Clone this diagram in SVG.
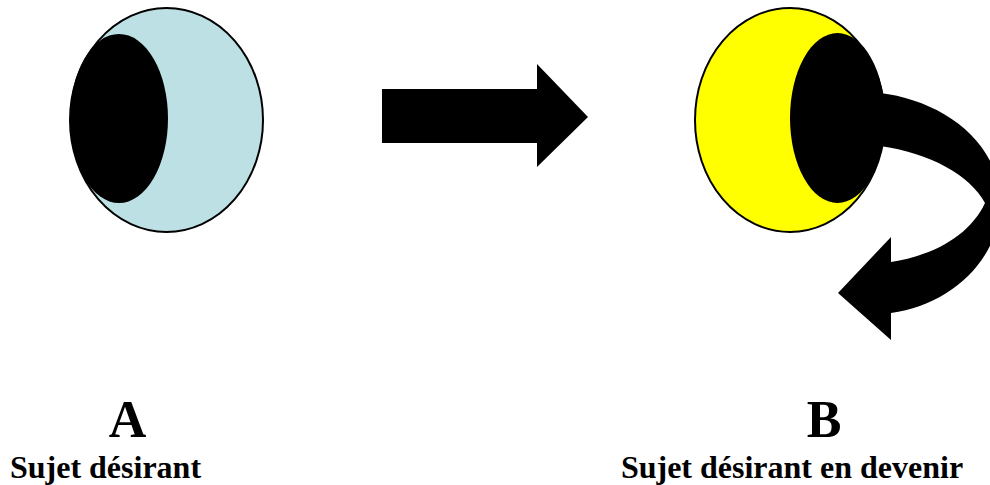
<svg xmlns="http://www.w3.org/2000/svg" width="990" height="485" viewBox="0 0 990 485">
<style>
.lbl{font-family:"Liberation Serif","Times New Roman",serif;font-weight:bold;fill:#000;text-anchor:middle}
.big{font-size:52px}
.cap{font-size:32px}
.outer{stroke:#000;stroke-width:2}
</style>
<rect width="990" height="485" fill="#fff"/>
<g id="nodeA">
<ellipse class="outer" cx="166.5" cy="120" rx="96.5" ry="112" fill="#bce0e3"/>
<ellipse cx="119" cy="118.5" rx="49" ry="84.5" fill="#000"/>
<text class="lbl big" x="127.5" y="437">A</text>
<text class="lbl cap" x="105.5" y="478">Sujet désirant</text>
</g>
<g id="connectors">
<polygon points="382,89 537,89 537,64 588,117 537,167 537,143 382,143" fill="#000"/>
</g>
<g id="nodeB">
<ellipse class="outer" cx="790" cy="120" rx="95" ry="112" fill="#ffff00"/>
<ellipse cx="837.5" cy="118" rx="47.5" ry="85" fill="#000"/>
<path d="M880,93 C940,100 1000,140 1000,203 C1000,260 950,305 891,313 L891,340 L838,293 L891,237 L891,262 C935,255 970,235 985,203 C970,175 930,153 880,146 Z" fill="#000"/>
<text class="lbl big" x="824" y="437">B</text>
<text class="lbl cap" x="792" y="478">Sujet désirant en devenir</text>
</g>
</svg>
